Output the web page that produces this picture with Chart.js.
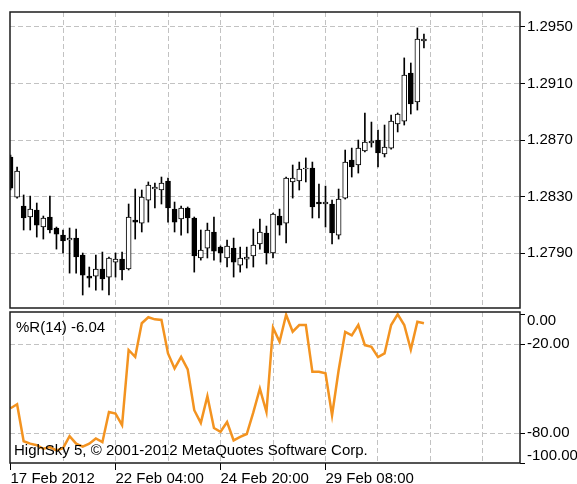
<!DOCTYPE html>
<html lang="en">
<head>
<meta charset="UTF-8">
<title>H4 chart with %R(14)</title>
<script src="https://cdn.jsdelivr.net/npm/chart.js"></script>
<style>
  * { margin: 0; padding: 0; box-sizing: border-box; }
  body { background: #fff; width: 577px; height: 484px; overflow: hidden; }
  .panel { position: absolute; left: 0; top: 0; }
</style>
</head>
<body>
<!-- price panel and indicator panel share the same 577x484 area -->
<canvas id="priceCanvas" class="panel" width="577" height="484"></canvas>
<canvas id="wprCanvas" class="panel" width="577" height="484"></canvas>
<script>
// candles, one per H4 bar (index 0 = 17 Feb 2012)
const opens = [1.28580,1.28296,1.28233,1.28155,1.28204,1.28084,1.28155,1.28077,1.28027,1.27992,
  1.28006,1.27886,1.27737,1.27737,1.27787,1.27730,1.27836,1.27857,1.27787,1.28134,
  1.28112,1.28275,1.28353,1.28346,1.28410,1.28211,1.28141,1.28219,1.28148,1.27865,
  1.27935,1.28049,1.27942,1.27865,1.27935,1.27815,1.27857,1.27879,1.27964,1.28042,
  1.27900,1.28162,1.28112,1.28403,1.28410,1.28495,1.28502,1.28261,1.28247,1.28247,
  1.28027,1.28289,1.28558,1.28523,1.28622,1.28679,1.28700,1.28601,1.28643,1.28813,
  1.28834,1.29174,1.28969,1.29401];
const highs = [1.28594,1.28509,1.28311,1.28303,1.28254,1.28162,1.28303,1.28084,1.28063,1.28077,
  1.28070,1.27900,1.27801,1.27886,1.27907,1.27872,1.27900,1.27907,1.28247,1.28353,
  1.28346,1.28403,1.28396,1.28438,1.28431,1.28261,1.28233,1.28226,1.28155,1.28063,
  1.28112,1.28155,1.27950,1.27992,1.28006,1.27942,1.27942,1.28070,1.28141,1.28091,
  1.28183,1.28211,1.28438,1.28523,1.28544,1.28573,1.28544,1.28388,1.28374,1.28275,
  1.28353,1.28629,1.28643,1.28700,1.28891,1.28827,1.28771,1.28806,1.28877,1.28891,
  1.29281,1.29245,1.29493,1.29450];
const lows = [1.28346,1.28289,1.28063,1.28063,1.28013,1.27999,1.28042,1.27928,1.27900,1.27758,
  1.27758,1.27603,1.27659,1.27638,1.27638,1.27603,1.27730,1.27709,1.27780,1.27999,
  1.28049,1.28119,1.28219,1.28247,1.28119,1.28049,1.28027,1.28042,1.27765,1.27850,
  1.27865,1.27850,1.27836,1.27801,1.27730,1.27765,1.27794,1.27801,1.27928,1.27822,
  1.27865,1.28027,1.27971,1.28289,1.28346,1.28403,1.28148,1.28148,1.28084,1.27964,
  1.27999,1.28282,1.28438,1.28466,1.28615,1.28650,1.28509,1.28580,1.28636,1.28757,
  1.28806,1.28884,1.28912,1.29351];
const closes = [1.28360,1.28480,1.28148,1.28211,1.28098,1.28148,1.28063,1.28034,1.27985,1.28006,
  1.27872,1.27744,1.27723,1.27787,1.27716,1.27865,1.27857,1.27780,1.28155,1.28119,
  1.28296,1.28381,1.28367,1.28396,1.28219,1.28119,1.28219,1.28148,1.27879,1.27921,
  1.28063,1.27914,1.27900,1.27950,1.27836,1.27865,1.27872,1.27957,1.28049,1.27900,
  1.28176,1.28098,1.28431,1.28431,1.28495,1.28502,1.28226,1.28247,1.28261,1.28042,
  1.28282,1.28544,1.28509,1.28643,1.28686,1.28693,1.28608,1.28650,1.28834,1.28884,
  1.29160,1.28955,1.29415,1.29415];

// Williams %R(14)
const wpr = [-63.2,-60.5,-85.4,-87,-88,-90.4,-89.3,-91.5,-90,-82,
  -87,-89,-87,-83.5,-86,-65.7,-66.8,-74.6,-24,-28.6,
  -6,-2,-3.4,-3.8,-26.3,-36.4,-28.6,-37,-64.5,-73,
  -55,-76.5,-79,-72.4,-84.8,-82.5,-80.5,-66,-50,-65.7,
  -9,-18.5,-0.3,-11.7,-7.2,-7.2,-38.7,-38.7,-39.6,-67.9,
  -37.6,-11.9,-14.2,-7.2,-20.7,-21.8,-28.8,-26.3,-7.2,0,
  -7.2,-23.7,-5,-6.04];

const priceTicks = [1.2790, 1.2830, 1.2870, 1.2910, 1.2950];
const wprTicks = [0, -20, -80, -100];
const gridBars = [8, 16, 24, 32, 40, 48, 56, 64, 72];
const dateBars = [0, 16, 32, 48];
const dateLabels = ['17 Feb 2012', '22 Feb 04:00', '24 Feb 20:00', '29 Feb 08:00'];

Chart.defaults.font.family = "'Liberation Sans', Arial, sans-serif";
Chart.defaults.font.size = 15;
Chart.defaults.color = '#000';

const gridGray = '#c2c2c2';
const dash = [5, 3];
const xMin = -0.08, xMax = 77.64;

// dark frame round each panel
const framePlugin = {
    id: 'frame',
    afterDraw(chart) {
        const a = chart.chartArea, ctx = chart.ctx;
        ctx.save();
        ctx.strokeStyle = '#1c1c1c';
        ctx.lineWidth = 1.5;
        ctx.strokeRect(a.left, a.top, a.right - a.left, a.bottom - a.top);
        ctx.restore();
    }
};

// indicator name and copyright line
const captionPlugin = {
    id: 'captions',
    afterDatasetsDraw(chart) {
        const a = chart.chartArea, ctx = chart.ctx;
        ctx.save();
        ctx.font = "15px 'Liberation Sans', Arial, sans-serif";
        ctx.fillStyle = '#000';
        ctx.textBaseline = 'middle';
        ctx.fillText('%R(14) ' + wpr[wpr.length - 1].toFixed(2), a.left + 6, a.top + 16);
        ctx.fillText('HighSky 5, \u00a9 2001-2012 MetaQuotes Software Corp.', a.left + 4, a.bottom - 12);
        ctx.restore();
    }
};

const bodyColors = opens.map((o, i) => closes[i] >= o ? '#ffffff' : '#000000');

// price panel: wicks and bodies as floating bars
new Chart(document.getElementById('priceCanvas'), {
    type: 'bar',
    data: {
        datasets: [{
            data: opens.map((o, i) => ({x: i, y: [o, closes[i]]})),
            backgroundColor: bodyColors,
            borderColor: '#000',
            borderWidth: 1,
            borderSkipped: false,
            barThickness: 5,
            grouped: false
        }, {
            data: lows.map((l, i) => ({x: i, y: [l, highs[i]]})),
            backgroundColor: '#000',
            borderWidth: 0,
            barThickness: 1,
            grouped: false
        }]
    },
    options: {
        responsive: false,
        animation: false,
        layout: { padding: { left: 10, top: 12, right: 0, bottom: 176 } },
        plugins: { legend: { display: false }, tooltip: { enabled: false } },
        scales: {
            x: {
                type: 'linear', min: xMin, max: xMax, offset: false,
                afterBuildTicks: s => { s.ticks = gridBars.map(v => ({value: v})); },
                afterFit: s => { s.height = 0; },
                ticks: { display: false },
                border: { display: false, dash: dash },
                grid: { color: gridGray, borderDash: dash, drawTicks: false, offset: false }
            },
            y: {
                position: 'right', min: 1.27511, max: 1.29606,
                afterBuildTicks: s => { s.ticks = priceTicks.map(v => ({value: v})); },
                afterFit: s => { s.width = 57; },
                border: { display: false, dash: dash },
                grid: { color: gridGray, borderDash: dash, tickColor: '#000', tickLength: 5, tickWidth: 1, tickBorderDash: [] },
                ticks: { padding: 2, callback: v => v.toFixed(4) }
            }
        }
    },
    plugins: [framePlugin]
});

// indicator panel
new Chart(document.getElementById('wprCanvas'), {
    type: 'line',
    data: {
        datasets: [{
            data: wpr.map((v, i) => ({x: i, y: v})),
            borderColor: '#f39320',
            borderWidth: 2.5,
            pointRadius: 0,
            tension: 0
        }]
    },
    options: {
        responsive: false,
        animation: false,
        layout: { padding: { left: 10, top: 312, right: 0, bottom: 0 } },
        plugins: { legend: { display: false }, tooltip: { enabled: false } },
        scales: {
            x: {
                type: 'linear', min: xMin, max: xMax, offset: false,
                afterBuildTicks: s => { s.ticks = [0].concat(gridBars).map(v => ({value: v})); },
                afterFit: s => { s.height = 21; },
                border: { display: false, dash: dash },
                grid: {
                    color: c => (c.tick && c.tick.value === 0) ? 'transparent' : gridGray,
                    borderDash: dash,
                    tickColor: c => (c.tick && dateBars.includes(c.tick.value)) ? '#000' : 'transparent',
                    tickLength: 7, tickWidth: 1, tickBorderDash: []
                },
                ticks: {
                    autoSkip: false, maxRotation: 0, align: 'start', padding: 0,
                    callback: v => { const k = dateBars.indexOf(v); return k < 0 ? '' : dateLabels[k]; }
                }
            },
            y: {
                position: 'right', min: -100, max: 1.55,
                afterBuildTicks: s => { s.ticks = wprTicks.map(v => ({value: v})); },
                afterFit: s => { s.width = 57; },
                border: { display: false, dash: dash },
                grid: {
                    color: c => (c.tick && (c.tick.value === 0 || c.tick.value === -100)) ? 'transparent' : gridGray,
                    borderDash: dash,
                    tickColor: '#000', tickLength: 5, tickWidth: 1, tickBorderDash: []
                },
                ticks: {
                    padding: 2,
                    font: { lineHeight: 0.9 },
                    // edge labels are pushed inside the panel, as the terminal does
                    callback: v => {
                        const t = v.toFixed(2);
                        if (v === 0) return ['', t];
                        if (v === -100) return [t, ''];
                        return t;
                    }
                }
            }
        }
    },
    plugins: [framePlugin, captionPlugin]
});
</script>
</body>
</html>
